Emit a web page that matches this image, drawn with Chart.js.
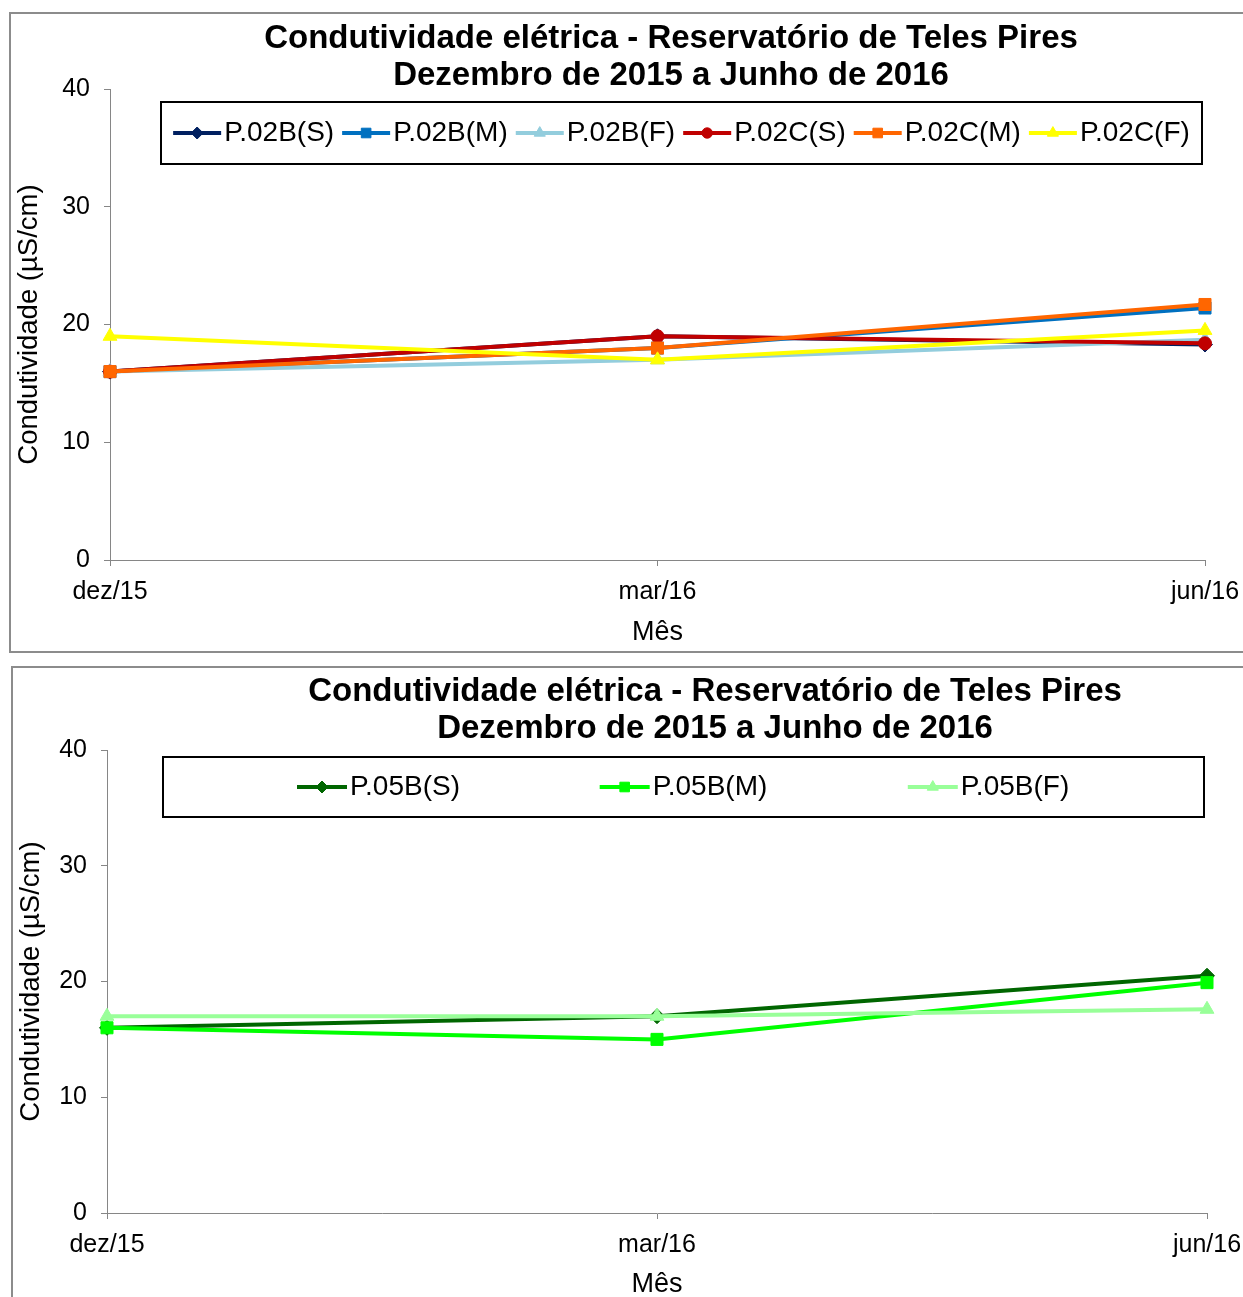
<!DOCTYPE html>
<html>
<head>
<meta charset="utf-8">
<script src="https://cdn.jsdelivr.net/npm/chart.js@4/dist/chart.umd.min.js"></script>
<style>
  html, body { margin: 0; padding: 0; background: #fff; overflow: hidden; width: 1243px; height: 1297px; }
  .frame { position: absolute; box-sizing: border-box; border: 2px solid #8c8c8c; }
  .holder { position: absolute; }
  canvas { display: block; }
</style>
</head>
<body>
<div class="frame" style="left:9px;top:12px;width:1300px;height:641px"></div>
<div class="holder" style="left:10px;top:13px"><canvas id="c1" width="1260" height="638"></canvas></div>
<div class="frame" style="left:11px;top:666px;width:1300px;height:700px"></div>
<div class="holder" style="left:12px;top:667px"><canvas id="c2" width="1260" height="638"></canvas></div>

<script>
// Months sampled
const months = ['dez/15', 'mar/16', 'jun/16'];
const yTicks = [0, 10, 20, 30, 40];

// Condutividade (µS/cm) – pontos P.02B / P.02C
const p02bS = [16, 19, 18.3];
const p02bM = [16, 18, 21.4];
const p02bF = [16, 17, 18.7];
const p02cS = [16, 19, 18.4];
const p02cM = [16, 18, 21.7];
const p02cF = [19, 17, 19.5];

// Condutividade (µS/cm) – ponto P.05B
const p05bS = [16, 17, 20.5];
const p05bM = [16, 15, 19.9];
const p05bF = [17, 17, 17.6];

const titleLines = ['Condutividade elétrica - Reservatório de Teles Pires', 'Dezembro de 2015 a Junho de 2016'];
const yTitle = 'Condutividade (µS/cm)';
const xTitle = 'Mês';

const FONT = '"Liberation Sans", Arial, sans-serif';

function series(label, data, color, style, radius) {
  return { label, data, color, style, radius };
}

const top6 = [
  series('P.02B(S)', p02bS, '#002060', 'rectRot', 7.5),
  series('P.02B(M)', p02bM, '#0070C0', 'rect', 8.5),
  series('P.02B(F)', p02bF, '#93CDDD', 'triangle', 8),
  series('P.02C(S)', p02cS, '#C00000', 'circle', 6.5),
  series('P.02C(M)', p02cM, '#FF6600', 'rect', 8.5),
  series('P.02C(F)', p02cF, '#FFFF00', 'triangle', 8)
];
const bottom3 = [
  series('P.05B(S)', p05bS, '#006600', 'rectRot', 7.5),
  series('P.05B(M)', p05bM, '#00FF00', 'rect', 8.5),
  series('P.05B(F)', p05bF, '#99FF99', 'triangle', 8)
];

// Marker drawing for the boxed legend
function marker(ctx, style, r, x, y) {
  ctx.beginPath();
  if (style === 'circle') {
    ctx.arc(x, y, r, 0, Math.PI * 2);
  } else if (style === 'rect') {
    const s = r * Math.SQRT1_2;
    ctx.rect(x - s, y - s, 2 * s, 2 * s);
  } else if (style === 'rectRot') {
    ctx.moveTo(x, y - r); ctx.lineTo(x + r, y); ctx.lineTo(x, y + r); ctx.lineTo(x - r, y); ctx.closePath();
  } else if (style === 'triangle') {
    const w = r * Math.sqrt(3) / 2;
    ctx.moveTo(x, y - r); ctx.lineTo(x + w, y + r / 2); ctx.lineTo(x - w, y + r / 2); ctx.closePath();
  }
  ctx.fill();
  ctx.stroke();
}

const titlePlugin = {
  id: 'twoLineTitle',
  afterDraw(chart, args, o) {
    const ctx = chart.ctx;
    ctx.save();
    ctx.fillStyle = '#000';
    ctx.font = 'bold ' + o.size + 'px ' + FONT;
    ctx.textAlign = 'center';
    ctx.textBaseline = 'middle';
    o.lines.forEach((t, i) => ctx.fillText(t, o.x, o.y + i * o.lh));
    ctx.restore();
  }
};

const boxLegendPlugin = {
  id: 'boxLegend',
  afterDraw(chart, args, o) {
    const ctx = chart.ctx;
    const b = o.box;
    ctx.save();
    ctx.fillStyle = '#fff';
    ctx.fillRect(b.x, b.y, b.w, b.h);
    ctx.strokeStyle = '#000';
    ctx.lineWidth = 2;
    ctx.strokeRect(b.x, b.y, b.w, b.h);
    ctx.font = o.size + 'px ' + FONT;
    ctx.textBaseline = 'middle';
    ctx.textAlign = 'left';
    const items = chart.data.datasets.map(ds => {
      const tw = ctx.measureText(ds.label).width;
      return { ds, tw, w: o.sample + 3 + tw };
    });
    const cy = b.y + b.h / 2;
    const starts = [];
    if (o.mode === 'packed') {
      const total = items.reduce((s, it) => s + it.w, 0) + o.gap * (items.length - 1);
      let x = b.x + (b.w - total) / 2;
      items.forEach(it => { starts.push(x); x += it.w + o.gap; });
    } else {
      const cx = b.x + b.w / 2;
      const n = items.length;
      items.forEach((it, i) => {
        const c = cx + (i - (n - 1) / 2) * o.slot;
        starts.push(c - it.w / 2);
      });
    }
    items.forEach((it, i) => {
      const x = starts[i];
      const ds = it.ds;
      ctx.strokeStyle = ds.borderColor;
      ctx.lineWidth = 4;
      ctx.beginPath();
      ctx.moveTo(x, cy);
      ctx.lineTo(x + o.sample, cy);
      ctx.stroke();
      ctx.fillStyle = ds.borderColor;
      ctx.lineWidth = 1;
      marker(ctx, ds.pointStyle, ds.pointRadius * 0.8, x + o.sample / 2, cy);
      ctx.fillStyle = '#000';
      ctx.fillText(ds.label, x + o.sample + 3, cy);
    });
    ctx.restore();
  }
};

function makeChart(id, list, L) {
  const canvas = document.getElementById(id);
  const W = canvas.width, H = canvas.height;
  const n = list.length;
  return new Chart(canvas, {
    type: 'line',
    data: {
      labels: months,
      datasets: list.map((s, i) => ({
        label: s.label,
        data: s.data,
        borderColor: s.color,
        backgroundColor: s.color,
        pointBackgroundColor: s.color,
        pointBorderColor: s.color,
        pointStyle: s.style,
        pointRadius: s.radius,
        pointBorderWidth: 1,
        borderWidth: 4,
        tension: 0,
        fill: false,
        order: n - i
      }))
    },
    options: {
      responsive: false,
      animation: false,
      events: [],
      layout: { padding: { top: L.plotTop, right: W - L.plotRight, left: 0, bottom: 0 } },
      plugins: {
        legend: { display: false },
        tooltip: { enabled: false },
        title: { display: false },
        twoLineTitle: { lines: titleLines, x: L.titleX, y: L.titleY, lh: 37, size: 33 },
        boxLegend: L.legend
      },
      scales: {
        x: {
          type: 'category',
          offset: false,
          afterFit(scale) { scale.height = H - L.plotBottom; },
          border: { display: true, color: '#868686', width: 1 },
          grid: { display: true, drawOnChartArea: false, drawTicks: true, tickLength: 6, color: '#868686', offset: false },
          ticks: { color: '#000', font: { family: FONT, size: 25 }, padding: 11, maxRotation: 0, autoSkip: false },
          title: { display: true, text: xTitle, color: '#000', font: { family: FONT, size: 27 }, padding: { top: 0, bottom: L.xTitlePad } }
        },
        y: {
          min: 0,
          max: 40,
          afterFit(scale) { scale.width = L.plotLeft; },
          afterBuildTicks(scale) { scale.ticks = yTicks.map(v => ({ value: v })); },
          border: { display: true, color: '#868686', width: 1 },
          grid: { display: true, drawOnChartArea: false, drawTicks: true, tickLength: 6, color: '#868686' },
          ticks: { color: '#000', font: { family: FONT, size: 25 }, padding: 14 },
          title: { display: true, text: yTitle, color: '#000', font: { family: FONT, size: 27.5 }, padding: { top: 3, bottom: 0 } }
        }
      }
    },
    plugins: [titlePlugin, boxLegendPlugin]
  });
}

makeChart('c1', top6, {
  plotLeft: 100, plotTop: 76, plotRight: 1195, plotBottom: 547,
  titleX: 661, titleY: 26, xTitlePad: 2,
  legend: { box: { x: 151, y: 89, w: 1041, h: 62 }, size: 28, sample: 48, gap: 8, mode: 'packed' }
});

makeChart('c2', bottom3, {
  plotLeft: 95, plotTop: 83, plotRight: 1195, plotBottom: 546,
  titleX: 703, titleY: 25, xTitlePad: 4,
  legend: { box: { x: 151, y: 90, w: 1041, h: 60 }, size: 28, sample: 50, slot: 305, mode: 'spread' }
});
</script>
</body>
</html>
